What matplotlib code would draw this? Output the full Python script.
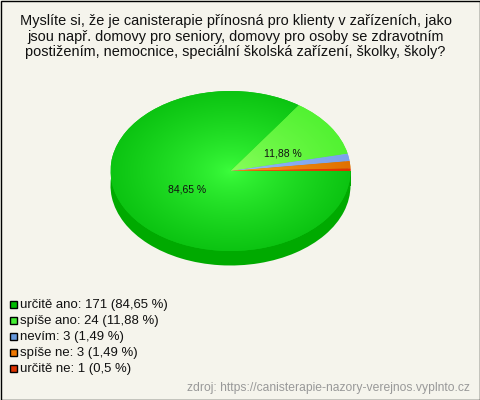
import numpy as np
import matplotlib
matplotlib.use("Agg")
import matplotlib.pyplot as plt
from matplotlib.colors import LinearSegmentedColormap
from matplotlib.patches import Rectangle

title_lines = [
    "Myslíte si, že je canisterapie přínosná pro klienty v zařízeních, jako",
    "jsou např. domovy pro seniory, domovy pro osoby se zdravotním",
    "postižením, nemocnice, speciální školská zařízení, školky, školy?",
]
categories = ["určitě ano", "spíše ano", "nevím", "spíše ne", "určitě ne"]
counts = [171, 24, 3, 3, 1]
percent_labels = ["84,65 %", "11,88 %", "1,49 %", "1,49 %", "0,5 %"]
center_colors = ["#3dff3d", "#8cff5e", "#9cbcf8", "#ffa522", "#ff5a1a"]
edge_colors = ["#0cc412", "#52f232", "#7ba2ec", "#e07000", "#dd3300"]
side_colors = ["#00aa00", "#33bb22", "#5577bb", "#bb5500", "#bb2200"]
legend_colors = ["#00bb00", "#44ee33", "#6699dd", "#ee7700", "#dd3300"]
source = "zdroj: https://canisterapie-nazory-verejnos.vyplnto.cz"
bg = "#f5f4ec"

plt.rcParams["font.family"] = ["Liberation Sans", "DejaVu Sans"]
W, H = 480, 400
fig = plt.figure(figsize=(W / 100, H / 100), dpi=100, facecolor=bg)

ov = fig.add_axes([0, 0, 1, 1], zorder=3)
ov.set_xlim(0, W)
ov.set_ylim(H, 0)
ov.axis("off")
ov.patch.set_alpha(0)

cx, cy, rx, ry, depth = 230.5, 171, 120, 80, 14.5
ax = fig.add_axes([(cx - rx) / W, (H - cy - ry - depth) / H, 2 * rx / W, (2 * ry + depth) / H], zorder=2)
d = depth / ry

side, _ = ax.pie(counts, colors=side_colors, startangle=0, counterclock=False, radius=1, center=(0, -d))
ax.add_patch(Rectangle((-1, -d), 2, d, facecolor=side_colors[0], edgecolor="none", zorder=0.5))
for w in side:
    w.set_zorder(0.4)
top, _ = ax.pie(counts, colors=edge_colors, startangle=0, counterclock=False, radius=1, center=(0, 0))

yy, xx = np.mgrid[-1.05:1.05:300j, -1.05:1.05:300j]
rr = np.clip(np.hypot(xx, yy), 0, 1) ** 0.75
for w, c0, c1 in zip(top, center_colors, edge_colors):
    w.set_zorder(1)
    cmap = LinearSegmentedColormap.from_list("g", [c0, c1])
    im = ax.imshow(rr, extent=(-1.05, 1.05, -1.05, 1.05), origin="lower", cmap=cmap,
                   vmin=0, vmax=1, aspect="auto", zorder=1.1, interpolation="bilinear")
    im.set_clip_path(w)

ax.set_aspect("auto")
ax.set_xlim(-1, 1)
ax.set_ylim(-1 - d, 1)
ax.axis("off")

ov.text(187, 190, percent_labels[0], ha="center", va="center", fontsize=7.5, color="#111111")
ov.text(283, 153, percent_labels[1], ha="center", va="center", fontsize=7.5, color="#111111")

for i, line in enumerate(title_lines):
    ov.text(235.5, 21 + i * 15.5, line, ha="center", va="center", fontsize=10.45, color="#111111")

for i, (cat, n, p, col) in enumerate(zip(categories, counts, percent_labels, legend_colors)):
    y = 305 + i * 16
    ov.add_patch(Rectangle((9.5, y - 4), 7, 7, facecolor=col, edgecolor="black", linewidth=1))
    ov.text(20, y, f"{cat}: {n} ({p})", ha="left", va="center", fontsize=9.45, color="#111111")

ov.text(470, 388, source, ha="right", va="center", fontsize=8.7, color="#999999")

ov.add_patch(Rectangle((0.5, 0.5), W - 1, H - 1, facecolor="none", edgecolor="black", linewidth=1))

fig.savefig("out.png", dpi=100, facecolor=bg)
